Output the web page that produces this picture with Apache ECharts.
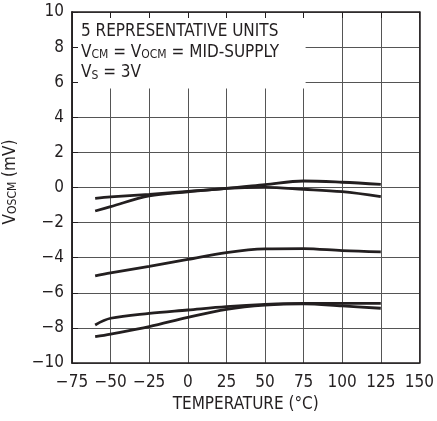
<!DOCTYPE html>
<html><head><meta charset="utf-8">
<script src="https://cdn.jsdelivr.net/npm/echarts@6/dist/echarts.min.js"></script>
<style>html,body{margin:0;padding:0;background:#fff}#c{width:437px;height:421px}</style>
</head><body><div id="c"></div>
<script>
// ---- data ----
const temps = [-60, -50, -25, 0, 25, 50, 75, 100, 125];
const unitA = [-0.62, -0.54, -0.39, -0.22, -0.05, 0.16, 0.37, 0.30, 0.18];
const unitB = [-1.34, -1.09, -0.48, -0.25, -0.05, 0.01, -0.10, -0.24, -0.52];
const unitC = [-5.04, -4.87, -4.50, -4.10, -3.71, -3.50, -3.48, -3.60, -3.67];
const unitD = [-7.83, -7.45, -7.17, -6.98, -6.79, -6.66, -6.60, -6.60, -6.60];
const unitE = [-8.50, -8.35, -7.93, -7.40, -6.94, -6.70, -6.63, -6.75, -6.88];
const xTickLabels = ['−75', '−50', '−25', '0', '25', '50', '75', '100', '125', '150'];
const yTickLabels = ['−10', '−8', '−6', '−4', '−2', '0', '2', '4', '6', '8', '10'];
const xTickValues = [-75, -50, -25, 0, 25, 50, 75, 100, 125, 150];
const yTickValues = [-10, -8, -6, -4, -2, 0, 2, 4, 6, 8, 10];

const FONT = "'Liberation Sans Narrow', 'DejaVu Sans Condensed', 'Liberation Sans', sans-serif";
const INK = '#231f20';
const chart = echarts.init(document.getElementById('c'), null, {renderer: 'canvas'});

function mkSeries(name, vals) {
  return {
    name, type: 'line', xAxisIndex: 0, yAxisIndex: 0, z: 5,
    data: temps.map((t, i) => [t, vals[i]]),
    smooth: 0.35, showSymbol: false, symbol: 'none',
    lineStyle: {color: INK, width: 2.8}, silent: true
  };
}

const xLab = v => xTickLabels[xTickValues.indexOf(v)] ?? String(v);
const yLab = v => yTickLabels[yTickValues.indexOf(v)] ?? String(v);

chart.setOption({
  animation: false,
  backgroundColor: '#fff',
  grid: {left: 72, right: 13, top: 12, bottom: 58, containLabel: false},
  xAxis: [
    {type: 'value', min: -75, max: 150, interval: 25, position: 'bottom',
     axisLine: {show: true, onZero: false, lineStyle: {color: INK, width: 1.5}},
     axisTick: {show: false},
     splitLine: {show: true, lineStyle: {color: '#555', width: 1}},
     axisLabel: {formatter: xLab, color: INK, fontSize: 17, fontFamily: FONT, margin: 11},
     name: 'TEMPERATURE (°C)', nameLocation: 'middle', nameGap: 30,
     nameTextStyle: {color: INK, fontSize: 17, fontFamily: FONT}},
    {type: 'value', min: -75, max: 150, interval: 25, position: 'top', z: 10,
     axisLine: {show: true, onZero: false, lineStyle: {color: INK, width: 1.5}},
     axisTick: {show: true, inside: true, length: 6, lineStyle: {color: INK, width: 1}},
     splitLine: {show: false}, axisLabel: {show: false}}
  ],
  yAxis: [
    {type: 'value', min: -10, max: 10, interval: 2, position: 'left',
     axisLine: {show: true, onZero: false, lineStyle: {color: INK, width: 1.5}},
     axisTick: {show: false},
     splitLine: {show: true, lineStyle: {color: '#555', width: 1}},
     axisLabel: {formatter: yLab, color: INK, fontSize: 17, fontFamily: FONT, margin: 8}},
    {type: 'value', min: -10, max: 10, interval: 2, position: 'left', z: 10,
     axisLine: {show: true, onZero: false, lineStyle: {color: INK, width: 1.5}},
     axisTick: {show: true, inside: true, length: 6, lineStyle: {color: INK, width: 1}},
     splitLine: {show: false}, axisLabel: {show: false}},
    {type: 'value', min: -10, max: 10, interval: 2, position: 'right', z: 10,
     axisLine: {show: true, onZero: false, lineStyle: {color: INK, width: 1.5}},
     axisTick: {show: false}, splitLine: {show: false}, axisLabel: {show: false}}
  ],
  series: [
    mkSeries('A', unitA), mkSeries('B', unitB), mkSeries('C', unitC),
    mkSeries('D', unitD), mkSeries('E', unitE)
  ]
});

// legend box (white panel covering the grid) + text
const p0 = chart.convertToPixel({xAxisIndex: 0, yAxisIndex: 0}, [-75, 10]);
const p1 = chart.convertToPixel({xAxisIndex: 0, yAxisIndex: 0}, [75, 5.7]);
const sub = {fontSize: 12, lineHeight: 6, verticalAlign: 'bottom', fontFamily: FONT, fill: INK};
const main = {fontSize: 17, lineHeight: 20.5, verticalAlign: 'bottom', fontFamily: FONT, fill: INK};
chart.setOption({
  graphic: [
    {type: 'rect', z: 1, silent: true,
     shape: {x: p0[0] + 1, y: p0[1] + 1, width: p1[0] - p0[0] + 1, height: p1[1] - p0[1]},
     style: {fill: '#fff'}},
    {type: 'text', z: 20, x: 81, y: 20, silent: true,
     style: {
       text: '{m|5 REPRESENTATIVE UNITS}\n{m|V}{s|CM}{m| = V}{s|OCM}{m| = MID-SUPPLY}\n{m|V}{s|S}{m| = 3V}',
       rich: {m: main, s: sub}, fill: INK, font: '17px ' + FONT
     }},
    {type: 'text', z: 20, x: 9, y: 182, rotation: Math.PI / 2, silent: true,
     style: {
       text: '{m|V}{s|OSCM}{m| (mV)}', rich: {m: main, s: sub},
       align: 'center', verticalAlign: 'middle', fill: INK
     }}
  ]
});
</script>
</body></html>
